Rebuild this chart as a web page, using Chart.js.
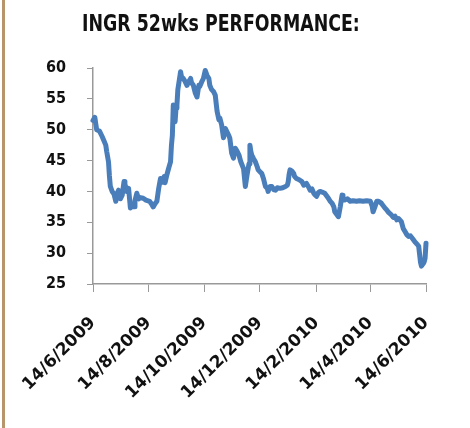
<!DOCTYPE html>
<html lang="en">
<head>
    <meta charset="UTF-8">
    <title>INGR 52wks Performance</title>
    <script src="https://cdn.jsdelivr.net/npm/chart.js"></script>
    <style>
        body {
            margin: 0;
            background-color: white;
        }
        #wrap {
            position: relative;
            width: 470px;
            height: 428px;
            overflow: hidden;
        }
        #leftBorder {
            position: absolute;
            left: 2px;
            top: 0;
            width: 3px;
            height: 428px;
            background-color: #b8966c;
        }
        #title {
            position: absolute;
            left: 82px;
            top: 11px;
            font-family: "DejaVu Sans Condensed", sans-serif;
            font-weight: bold;
            font-size: 23px;
            line-height: 24px;
            color: #111;
            white-space: nowrap;
            transform: scaleX(0.84);
            transform-origin: left top;
        }
        canvas {
            position: absolute;
            left: 0;
            top: 0;
        }
    </style>
</head>
<body>
    <div id="wrap">
        <canvas id="perfChart" width="470" height="428"></canvas>
        <div id="leftBorder"></div>
        <div id="title">INGR 52wks PERFORMANCE:</div>
    </div>

    <script>
        // days counted from 14/6/2009
        const days = [
            0, 2, 3, 4, 7, 10, 12, 14, 15, 17, 18, 19, 21, 23, 25, 26, 28, 30, 32, 34,
            35, 37, 39, 41, 43, 45, 46, 48, 50, 52, 55, 58, 62, 64, 66, 68, 70, 72, 74, 76,
            78, 79, 81, 83, 85, 86, 87, 88, 89, 90, 91, 92, 93, 96, 97, 99, 101, 103, 105, 107,
            108, 110, 112, 114, 116, 117, 119, 121, 123, 125, 127, 128, 130, 132, 134, 136, 138, 139, 141, 143,
            145, 147, 149, 150, 152, 154, 156, 158, 160, 162, 165, 167, 169, 171, 172, 173, 174, 176, 178, 180,
            181, 183, 185, 187, 189, 191, 192, 194, 196, 198, 200, 202, 205, 208, 211, 213, 214, 215, 216, 218,
            220, 221, 223, 226, 229, 231, 234, 236, 238, 240, 242, 243, 245, 247, 249, 251, 254, 256, 258, 260,
            262, 264, 265, 267, 269, 271, 273, 274, 276, 279, 282, 285, 289, 292, 296, 300, 304, 306, 307, 309,
            311, 313, 316, 318, 320, 322, 324, 327, 329, 331, 333, 335, 338, 340, 342, 344, 346, 348, 351, 353,
            355, 357, 358, 359, 360, 362, 363, 364, 365
        ];
        const prices = [
            51.5, 52.0, 51.0, 50.0, 49.8, 48.9, 48.2, 47.5, 46.5, 44.8, 42.5, 40.8, 40.0, 39.6, 38.4, 39.5, 40.2, 38.8, 39.4, 41.6,
            41.2, 40.0, 40.5, 37.3, 38.0, 37.5, 38.5, 39.7, 38.8, 39.0, 38.9, 38.6, 38.4, 38.0, 37.5, 38.0, 38.4, 40.5, 42.1, 41.5,
            42.4, 41.4, 42.7, 43.8, 44.8, 47.5, 49.1, 54.0, 53.0, 51.3, 53.5, 54.0, 56.5, 59.4, 58.6, 58.3, 57.8, 57.2, 57.8, 58.3,
            57.6, 57.2, 56.0, 55.3, 57.2, 57.0, 57.7, 58.3, 59.6, 58.8, 58.3, 57.2, 56.5, 56.2, 55.6, 53.0, 51.6, 51.9, 50.8, 48.7,
            50.2, 49.6, 49.0, 48.6, 46.2, 45.4, 47.0, 46.5, 45.9, 44.8, 43.7, 40.8, 42.8, 44.5, 47.5, 46.5, 45.9, 45.3, 44.8, 44.0,
            43.5, 43.2, 42.9, 42.0, 40.8, 40.5, 40.0, 40.8, 40.8, 40.3, 40.2, 40.6, 40.5, 40.6, 40.8, 41.0, 41.6, 42.8, 43.5, 43.3,
            42.9, 42.4, 42.1, 41.9, 41.6, 41.0, 41.3, 40.8, 40.2, 40.4, 39.7, 39.5, 39.2, 39.8, 40.0, 39.9, 39.7, 39.3, 38.9, 38.4,
            38.1, 37.5, 36.7, 36.3, 35.9, 37.5, 39.4, 38.8, 38.6, 38.8, 38.4, 38.5, 38.4, 38.5, 38.4, 38.5, 38.4, 37.6, 36.7, 37.5,
            38.4, 38.4, 38.1, 37.7, 37.3, 37.0, 36.6, 36.2, 35.8, 36.0, 35.4, 35.6, 35.1, 34.0, 33.5, 33.0, 32.7, 32.8, 32.2, 31.8,
            31.5, 31.1, 29.8, 28.5, 27.9, 28.3, 28.6, 29.2, 31.6
        ];

        const tickDays = [0, 61, 122, 183, 245, 304, 365];
        const tickLabels = ['14/6/2009', '14/8/2009', '14/10/2009', '14/12/2009', '14/2/2010', '14/4/2010', '14/6/2010'];

        const yMin = 25;
        const yMax = 60;
        const yStep = 5;

        const points = days.map((d, i) => ({ x: d, y: prices[i] }));

        const axisColor = '#999999';

        const perfChart = new Chart(document.getElementById('perfChart').getContext('2d'), {
            type: 'line',
            data: {
                datasets: [{
                    data: points,
                    borderColor: '#4a7ebb',
                    borderWidth: 5,
                    pointRadius: 0,
                    tension: 0,
                    fill: false,
                    clip: false,
                    borderJoinStyle: 'round',
                    borderCapStyle: 'round'
                }]
            },
            options: {
                responsive: false,
                animation: false,
                layout: {
                    padding: { top: 68, right: 44, left: 0, bottom: 0 }
                },
                plugins: {
                    legend: { display: false },
                    tooltip: { enabled: false }
                },
                scales: {
                    x: {
                        type: 'linear',
                        min: 0,
                        max: 365,
                        afterBuildTicks: (scale) => {
                            scale.ticks = tickDays.map(v => ({ value: v }));
                        },
                        afterFit: (scale) => {
                            scale.height = 428 - 284;
                        },
                        grid: {
                            display: true,
                            drawOnChartArea: false,
                            drawTicks: true,
                            tickLength: 8,
                            color: axisColor
                        },
                        border: { display: true, color: axisColor, width: 1.5 },
                        ticks: {
                            autoSkip: false,
                            minRotation: 45,
                            maxRotation: 45,
                            padding: 21,
                            color: '#111',
                            font: { family: 'DejaVu Sans', weight: 'bold', size: 17 },
                            callback: (value) => tickLabels[tickDays.indexOf(value)]
                        }
                    },
                    y: {
                        min: yMin,
                        max: yMax,
                        afterFit: (scale) => {
                            scale.width = 93;
                        },
                        grid: {
                            display: true,
                            drawOnChartArea: false,
                            drawTicks: true,
                            tickLength: 6,
                            color: axisColor
                        },
                        border: { display: true, color: axisColor, width: 1.5 },
                        ticks: {
                            stepSize: yStep,
                            padding: 21,
                            color: '#111',
                            font: { family: 'DejaVu Sans Condensed', weight: 'bold', size: 16 }
                        }
                    }
                }
            }
        });
    </script>
</body>
</html>
